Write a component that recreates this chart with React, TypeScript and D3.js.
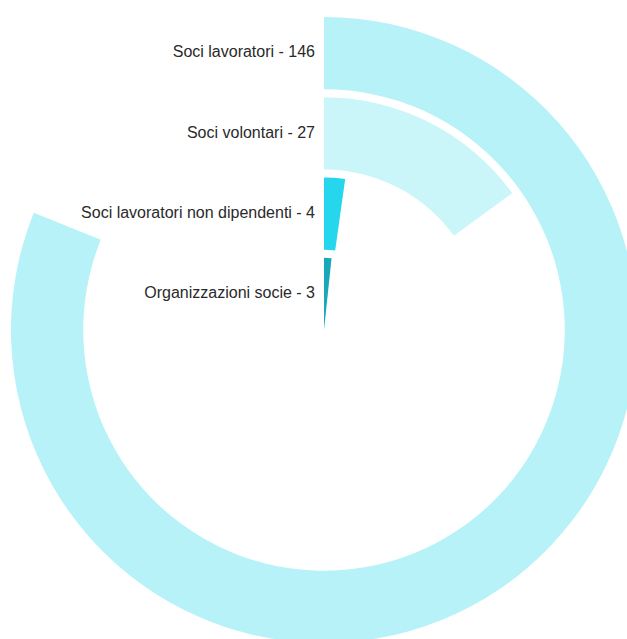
import React from "react";
import * as d3 from "d3";

const categories = [
  "Soci lavoratori",
  "Soci volontari",
  "Soci lavoratori non dipendenti",
  "Organizzazioni socie",
];
const values = [146, 27, 4, 3];
const colors = ["#b6f2f8", "#caf6fa", "#25d6ec", "#18a8ba"];
const maxValue = 180;

const width = 627;
const height = 639;
const cx = 324;
const cy = 330;
const outerRadius = 313;

export default function App() {
  // Outermost ring for the first category, innermost for the last
  const radial = d3
    .scaleBand<string>()
    .domain([...categories].reverse())
    .range([0, outerRadius])
    .paddingInner(0.1);
  const angle = d3.scaleLinear().domain([0, maxValue]).range([0, 2 * Math.PI]);
  const arc = d3.arc<any>();

  return (
    <svg
      width={width}
      height={height}
      style={{ position: "absolute", left: 0, top: 0 }}
    >
      <g transform={`translate(${cx},${cy})`}>
        {categories.map((c, i) => {
          const r0 = radial(c)!;
          const r1 = r0 + radial.bandwidth();
          const d = arc({
            innerRadius: r0,
            outerRadius: r1,
            startAngle: 0,
            endAngle: angle(values[i]),
          });
          return <path key={c} d={d || ""} fill={colors[i]} />;
        })}
        {categories.map((c, i) => {
          const rm = radial(c)! + radial.bandwidth() / 2;
          return (
            <text
              key={c}
              x={-9}
              y={-rm}
              textAnchor="end"
              dominantBaseline="middle"
              fontFamily="Liberation Sans, Arial, sans-serif"
              fontSize={16}
              fill="#2a2a2a"
            >
              {`${c} - ${values[i]}`}
            </text>
          );
        })}
      </g>
    </svg>
  );
}
